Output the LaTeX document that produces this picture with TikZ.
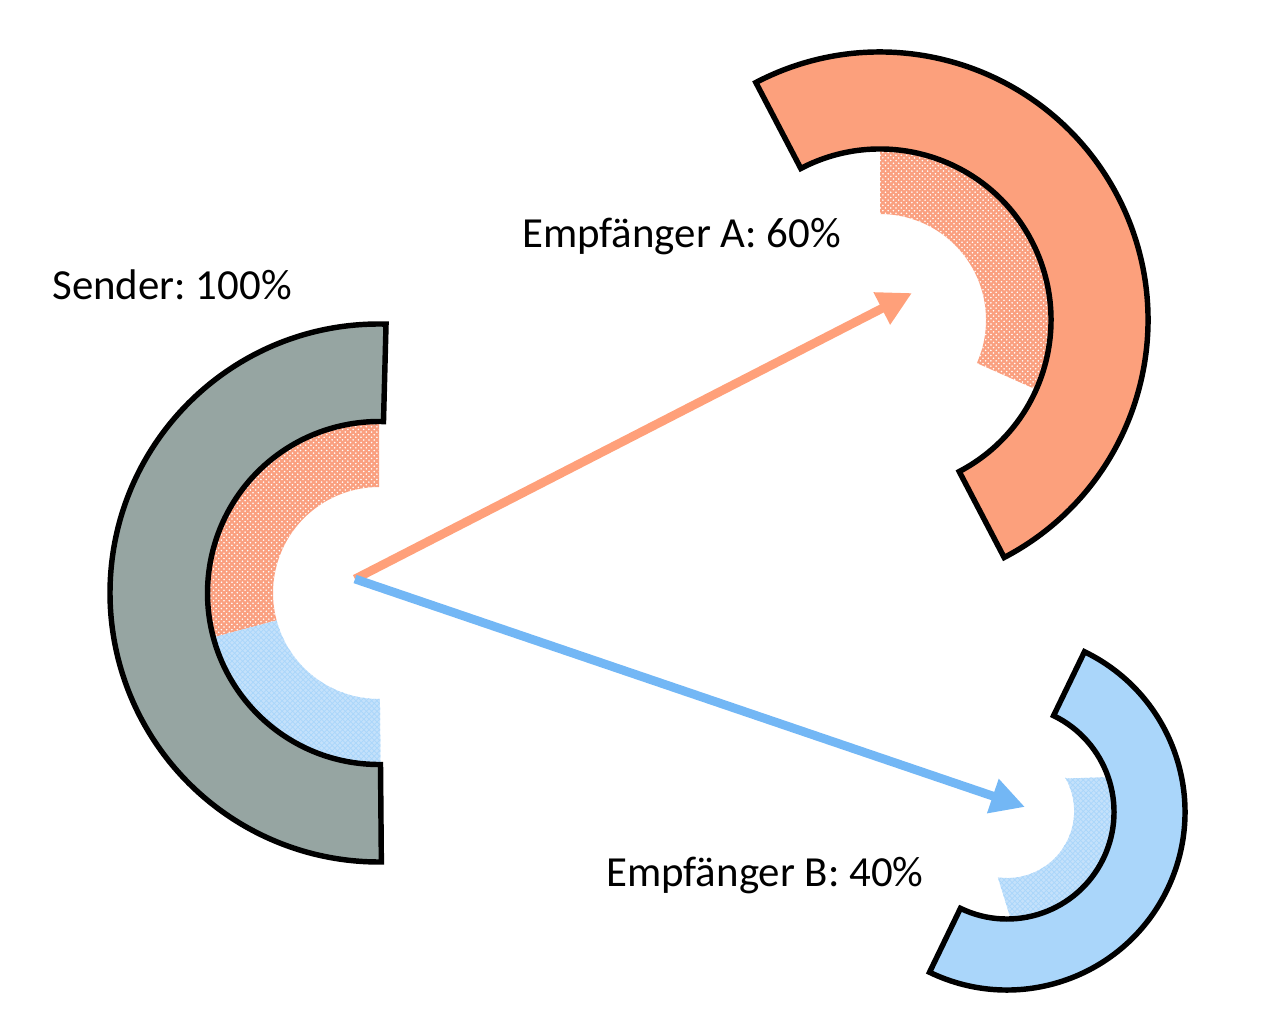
\documentclass[tikz,border=0pt]{standalone}
\usepackage{fontspec}
\setmainfont{Carlito}
\frenchspacing
\usetikzlibrary{arrows.meta}
\usetikzlibrary{patterns}

\definecolor{senderGray}{RGB}{150,165,162}
\definecolor{recvOrange}{RGB}{252,160,124}
\definecolor{recvBlue}{RGB}{170,214,250}
\definecolor{hatchOrange}{RGB}{250,160,128}
\definecolor{hatchBlue}{RGB}{196,225,251}
\definecolor{arrowOrange}{RGB}{255,160,122}
\definecolor{arrowBlue}{RGB}{115,183,245}

% part of a ring: start angle, end angle, outer radius, inner radius
\newcommand{\ringpart}[4]{(#1:#3) arc[start angle=#1, end angle=#2, radius=#3] -- (#2:#4) arc[start angle=#2, end angle=#1, radius=#4] -- cycle}

\begin{document}
\begin{tikzpicture}[x=0.02cm,y=0.02cm,
    ring/.style={draw=black,line width=3.1pt,line join=miter},
    flow/.style={line width=5pt,-{Triangle[length=0.68cm,width=0.68cm]}},
    pcttext/.style={font=\fontsize{24.4}{29}\selectfont,anchor=base west,inner sep=0pt}]

    \useasboundingbox (0,0) rectangle (1280,1025);

    % sender: grey half ring, shares inside
    \begin{scope}[shift={(379,432)}]
        \fill[hatchOrange] \ringpart{90}{195}{172}{106};
        \fill[pattern=crosshatch dots,pattern color=white] \ringpart{90}{195}{172}{106};
        \fill[hatchBlue] \ringpart{195}{270.5}{172}{106};
        \fill[pattern=crosshatch,pattern color=recvBlue] \ringpart{195}{270.5}{172}{106};
        \draw[ring,fill=senderGray] \ringpart{88.5}{270.5}{269}{171.5};
    \end{scope}

    % receiver A
    \begin{scope}[shift={(880,705)}]
        \fill[hatchOrange] \ringpart{90}{-24}{172}{106};
        \fill[pattern=crosshatch dots,pattern color=white] \ringpart{90}{-24}{172}{106};
        \draw[ring,fill=recvOrange] \ringpart{117.6}{-62.4}{268}{171};
    \end{scope}

    % receiver B
    \begin{scope}[shift={(1007,213)}]
        \fill[hatchBlue] (30:67) -- (19:107) arc[start angle=19, end angle=-88, radius=107]
            -- (-98:66) arc[start angle=-98, end angle=30, radius=67] -- cycle;
        \fill[pattern=crosshatch,pattern color=recvBlue] (30:67) -- (19:107) arc[start angle=19, end angle=-88, radius=107]
            -- (-98:66) arc[start angle=-98, end angle=30, radius=67] -- cycle;
        \draw[ring,fill=recvBlue] \ringpart{64.2}{-115.8}{178}{107};
    \end{scope}

    % labels
    \node[pcttext] (sender) at (52,725) {Sender: 100\%};
    \node[pcttext] (empfA) at (522,777) {Empfänger A: 60\%};
    \node[pcttext] (empfB) at (606,139) {Empfänger B: 40\%};

    % flows
    \coordinate (src) at (355,446);
    \coordinate (tipA) at (912,732);
    \coordinate (tipB) at (1025,218);
    \draw[flow,arrowOrange] (src) -- (tipA);
    \draw[flow,arrowBlue] (src) -- (tipB);

\end{tikzpicture}
\end{document}
